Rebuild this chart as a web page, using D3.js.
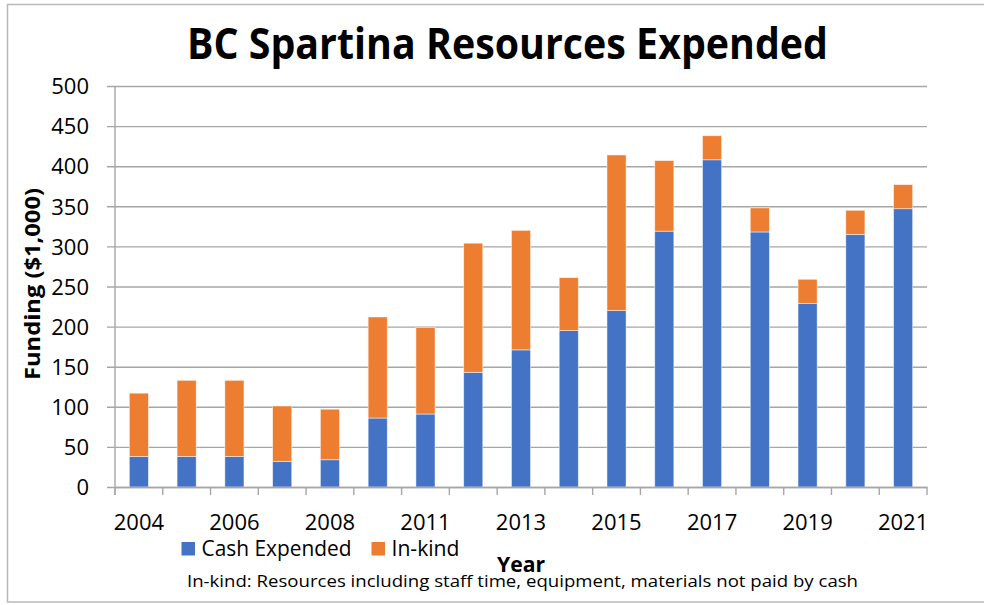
<!DOCTYPE html>
<html>
<head>
<meta charset="utf-8">
<script src="https://cdn.jsdelivr.net/npm/d3@7"></script>
<style>
  html, body { margin: 0; padding: 0; background: #fff; }
  svg { display: block; font-family: "Open Sans", "Noto Sans", sans-serif; }
</style>
</head>
<body>
<svg id="chart" width="984" height="605"></svg>
<script>
// ---- data ----
const years = ["2004","2005","2006","2007","2008","2010","2011","2012","2013","2014","2015","2016","2017","2018","2019","2020","2021"];
const cashExpended = [38, 38, 38, 32, 34, 86, 91, 143, 171, 195, 220, 319, 408, 318, 229, 315, 347];
const inKind       = [79, 95, 95, 69, 63, 126, 108, 161, 149, 66, 194, 88, 30, 30, 30, 30, 30];
const yTicks = [0, 50, 100, 150, 200, 250, 300, 350, 400, 450, 500];
const seriesNames = ["Cash Expended", "In-kind"];
const seriesColors = ["#4472C4", "#ED7D31"];
const titleText = "BC Spartina Resources Expended";
const xTitle = "Year";
const yTitle = "Funding ($1,000)";
const footnote = "In-kind: Resources including staff time, equipment, materials not paid by cash";

// ---- layout ----
const svg = d3.select("#chart");
const m = { left: 115, right: 57, top: 86, bottom: 118 };
const W = 984, H = 605;
const pw = W - m.left - m.right;   // 812
const ph = H - m.top - m.bottom;   // 401
const gridColor = "#a6a6a6";

// outer border
svg.append("rect")
  .attr("x", 7.5).attr("y", 4.5)
  .attr("width", 990).attr("height", 597.5)
  .attr("fill", "none").attr("stroke", "#b8b8b8").attr("stroke-width", 1.5);

// title
svg.append("text")
  .attr("x", 507.5).attr("y", 59)
  .attr("text-anchor", "middle")
  .attr("font-weight", "bold").attr("font-size", 43)
  .attr("textLength", 641).attr("lengthAdjust", "spacingAndGlyphs")
  .attr("fill", "#000")
  .text(titleText);

const g = svg.append("g").attr("transform", `translate(${m.left},${m.top})`);

const x = d3.scaleBand().domain(years).range([0, pw]).paddingInner(0.6).paddingOuter(0.3);
const y = d3.scaleLinear().domain([0, 500]).range([ph, 0]);

// y axis with gridlines
const yAxis = d3.axisLeft(y).tickValues(yTicks).tickSizeInner(-pw).tickSizeOuter(0).tickPadding(0);
const ya = g.append("g").call(yAxis);
ya.select(".domain").remove();
ya.selectAll(".tick line").attr("x1", -8).attr("x2", pw).attr("stroke", gridColor).attr("stroke-width", 1.4);
ya.selectAll(".tick text")
  .attr("x", -26).attr("dy", "0.35em")
  .attr("font-size", 22).attr("fill", "#000")
  .attr("font-family", "'Open Sans', sans-serif");

// vertical y axis line
g.append("line")
  .attr("x1", 0).attr("x2", 0).attr("y1", y(500)).attr("y2", ph + 8)
  .attr("stroke", gridColor).attr("stroke-width", 1.4);

// stacked bars
const stackData = years.map((yr, i) => ({ year: yr, cash: cashExpended[i], inkind: inKind[i] }));
const stack = d3.stack().keys(["cash", "inkind"]);
const layers = stack(stackData);
g.selectAll("g.layer").data(layers).enter().append("g")
  .attr("class", "layer")
  .attr("fill", (d, i) => seriesColors[i])
  .selectAll("rect").data(d => d).enter().append("rect")
  .attr("x", d => x(d.data.year))
  .attr("width", x.bandwidth())
  .attr("y", d => y(d[1]))
  .attr("height", d => y(d[0]) - y(d[1]))
  .attr("stroke", "#ffffff").attr("stroke-opacity", 0.6).attr("stroke-width", 0.8);

// x axis: labels every other category, ticks at category boundaries
const xAxis = d3.axisBottom(x).tickSize(0).tickPadding(0)
  .tickFormat((d, i) => (i % 2 === 0 ? d : ""));
const xa = g.append("g").attr("transform", `translate(0,${ph})`).call(xAxis);
xa.select(".domain").attr("stroke", gridColor).attr("stroke-width", 1.4);
xa.selectAll(".tick text")
  .attr("y", 43).attr("dy", 0)
  .attr("font-size", 22).attr("fill", "#000")
  .attr("font-family", "'Open Sans', sans-serif");

const step = x.step();
const boundaries = d3.range(years.length + 1).map(i => i * step);
g.selectAll("line.xtick").data(boundaries).enter().append("line")
  .attr("class", "xtick")
  .attr("x1", d => d).attr("x2", d => d)
  .attr("y1", ph).attr("y2", ph + 8)
  .attr("stroke", gridColor).attr("stroke-width", 1.4);

// legend
const legend = svg.append("g");
const legX = [181.5, 371.5];
const legW = [150, 68];
seriesNames.forEach((name, i) => {
  legend.append("rect")
    .attr("x", legX[i]).attr("y", 542)
    .attr("width", 13.5).attr("height", 13.5)
    .attr("fill", seriesColors[i]);
  legend.append("text")
    .attr("x", legX[i] + 20).attr("y", 556)
    .attr("font-size", 21).attr("fill", "#000")
    .attr("textLength", legW[i]).attr("lengthAdjust", "spacingAndGlyphs")
    .text(name);
});

// axis titles
svg.append("text")
  .attr("x", 521).attr("y", 572)
  .attr("text-anchor", "middle")
  .attr("font-weight", "bold").attr("font-size", 22)
  .attr("textLength", 48).attr("lengthAdjust", "spacingAndGlyphs")
  .text(xTitle);

svg.append("text")
  .attr("transform", "translate(40,284) rotate(-90)")
  .attr("text-anchor", "middle")
  .attr("font-weight", "bold").attr("font-size", 21)
  .attr("textLength", 192).attr("lengthAdjust", "spacingAndGlyphs")
  .text(yTitle);

// footnote
svg.append("text")
  .attr("x", 522.5).attr("y", 587)
  .attr("text-anchor", "middle")
  .attr("font-size", 17).attr("fill", "#000")
  .attr("textLength", 671).attr("lengthAdjust", "spacingAndGlyphs")
  .text(footnote);
</script>
</body>
</html>
